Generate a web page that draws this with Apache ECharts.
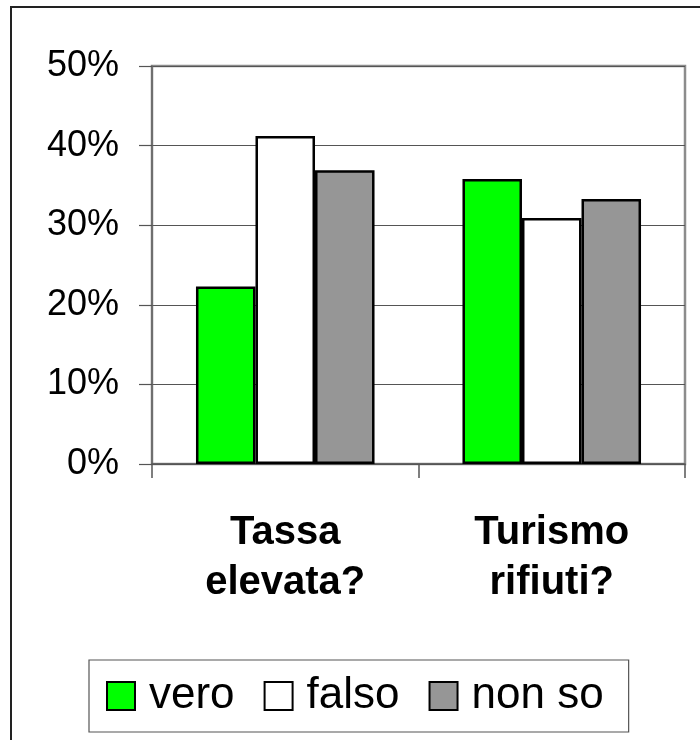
<!DOCTYPE html>
<html>
<head>
<meta charset="utf-8">
<script src="https://cdn.jsdelivr.net/npm/echarts@6/dist/echarts.min.js"></script>
<style>
html,body{margin:0;padding:0;background:#fff;}
#chart{width:700px;height:740px;}
</style>
</head>
<body>
<div id="chart"></div>
<script>
const categories = ['Tassa\nelevata?', 'Turismo\nrifiuti?'];
const seriesNames = ['vero', 'falso', 'non so'];
const vero = [22.3, 35.8];
const falso = [41.2, 30.9];
const nonSo = [36.9, 33.3];
const yTicks = [0, 10, 20, 30, 40, 50];

const colors = ['#00ff00', '#ffffff', '#969696'];
const values = [vero, falso, nonSo];
const FONT = "'Liberation Sans', Arial, sans-serif";

const chart = echarts.init(document.getElementById('chart'), null, {renderer: 'canvas'});
chart.setOption({
  animation: false,
  backgroundColor: '#ffffff',
  graphic: [{
    type: 'rect',
    shape: {x: 11, y: 7, width: 720, height: 760},
    style: {fill: 'none', stroke: '#222', lineWidth: 2},
    silent: true,
    z: -1
  }],
  grid: {
    left: 152, right: 15, top: 66, bottom: 276,
    show: true, borderColor: '#8c8c8c', borderWidth: 2.5,
    backgroundColor: 'transparent'
  },
  legend: {
    left: 89, top: 660,
    orient: 'horizontal',
    padding: [11, 25, 11, 17],
    borderColor: '#555', borderWidth: 1.2,
    backgroundColor: '#fff',
    icon: 'rect', itemWidth: 28, itemHeight: 28, itemGap: 29,
    itemStyle: {borderColor: '#000', borderWidth: 2},
    textStyle: {fontFamily: FONT, fontSize: 44, color: '#000', lineHeight: 50, padding: [0, 0, 0, 9]},
    data: seriesNames
  },
  xAxis: {
    type: 'category',
    data: categories,
    boundaryGap: true,
    axisLine: {show: true, lineStyle: {color: '#555', width: 1.5}},
    axisTick: {show: true, length: 14, alignWithLabel: false, lineStyle: {color: '#555', width: 1.5}},
    axisLabel: {fontFamily: FONT, fontSize: 40, fontWeight: 'bold', color: '#000', lineHeight: 50, margin: 44, interval: 0}
  },
  yAxis: {
    type: 'value', min: yTicks[0], max: yTicks[yTicks.length - 1], interval: 10,
    axisLine: {show: true, lineStyle: {color: '#666', width: 1.5}},
    axisTick: {show: true, length: 13, lineStyle: {color: '#555', width: 1.2}},
    splitLine: {show: true, lineStyle: {color: '#555', width: 1.2}},
    axisLabel: {fontFamily: FONT, fontSize: 36, color: '#000', margin: 33, formatter: '{value}%'}
  },
  series: seriesNames.map((name, i) => ({
    name: name,
    type: 'bar',
    data: values[i],
    barGap: '0%',
    barCategoryGap: '33%',
    itemStyle: {color: colors[i], borderColor: '#000', borderWidth: 2.5},
    z: 3
  }))
});
</script>
</body>
</html>
